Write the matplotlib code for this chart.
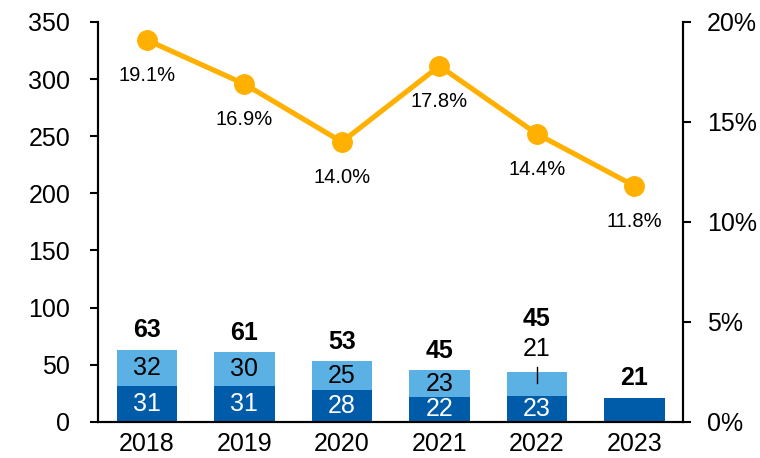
import numpy as np
import matplotlib.pyplot as plt

plt.rcParams['font.family'] = ['Liberation Sans', 'DejaVu Sans']

years = ["2018", "2019", "2020", "2021", "2022", "2023"]
dark_vals = [31, 31, 28, 22, 23, 21]
light_vals = [32, 30, 25, 23, 21, 0]
totals = [63, 61, 53, 45, 45, 21]
pct = [19.1, 16.9, 14.0, 17.8, 14.4, 11.8]

dark_col = "#005CA9"
light_col = "#5BB1E3"
line_col = "#FFB000"

fig = plt.figure(figsize=(7.6, 4.58), dpi=100)
ax = fig.add_axes([0.129, 0.079, 0.770, 0.873])
ax2 = ax.twinx()

x = np.arange(len(years))
w = 0.62
ax.bar(x, dark_vals, w, color=dark_col, zorder=2)
ax.bar(x, light_vals, w, bottom=dark_vals, color=light_col, zorder=2)

fs = 18
for i in range(len(years)):
    if light_vals[i]:
        ax.text(x[i], dark_vals[i] / 2, str(dark_vals[i]),
                ha="center", va="center", color="white", fontsize=fs)
    if i == 4:
        # small segment: label above with leader line
        ax.text(x[i], totals[i] + 19, str(light_vals[i]), ha="center", va="center",
                fontsize=fs)
        ax.plot([x[i], x[i]], [totals[i] - 11, totals[i] + 3], color="black", lw=1, zorder=3)
        ax.text(x[i], totals[i] + 45, str(totals[i]), ha="center", va="center",
                fontsize=fs, fontweight="bold")
    else:
        if light_vals[i]:
            ax.text(x[i], dark_vals[i] + light_vals[i] / 2, str(light_vals[i]),
                    ha="center", va="center", fontsize=fs)
        ax.text(x[i], totals[i] + 17, str(totals[i]), ha="center", va="center",
                fontsize=fs, fontweight="bold")

ax2.plot(x, np.array(pct) / 100, color=line_col, lw=3.7, marker="o", ms=14, zorder=4)
for i in range(len(years)):
    ax2.text(x[i], pct[i] / 100 - 0.018, f"{pct[i]:.1f}%", ha="center", va="center",
             fontsize=14.5)

ax.set_xlim(-0.5, 5.5)
ax.set_ylim(0, 350)
ax.set_yticks(np.arange(0, 351, 50))
ax2.set_ylim(0, 0.20)
ax2.set_yticks(np.arange(0, 0.201, 0.05))
ax2.set_yticklabels([f"{int(v)}%" for v in np.arange(0, 21, 5)])
ax.set_xticks(x)
ax.set_xticklabels(years)

for a in (ax, ax2):
    a.spines["top"].set_visible(False)
    a.tick_params(axis="both", labelsize=fs, width=1.5, length=6, direction="out")
    for s in ("left", "right", "bottom"):
        a.spines[s].set_linewidth(1.5)
ax.tick_params(axis="y", pad=14)
ax2.tick_params(axis="y", pad=11)
ax.tick_params(axis="x", length=0, pad=7)

fig.savefig("out.png", dpi=100)
